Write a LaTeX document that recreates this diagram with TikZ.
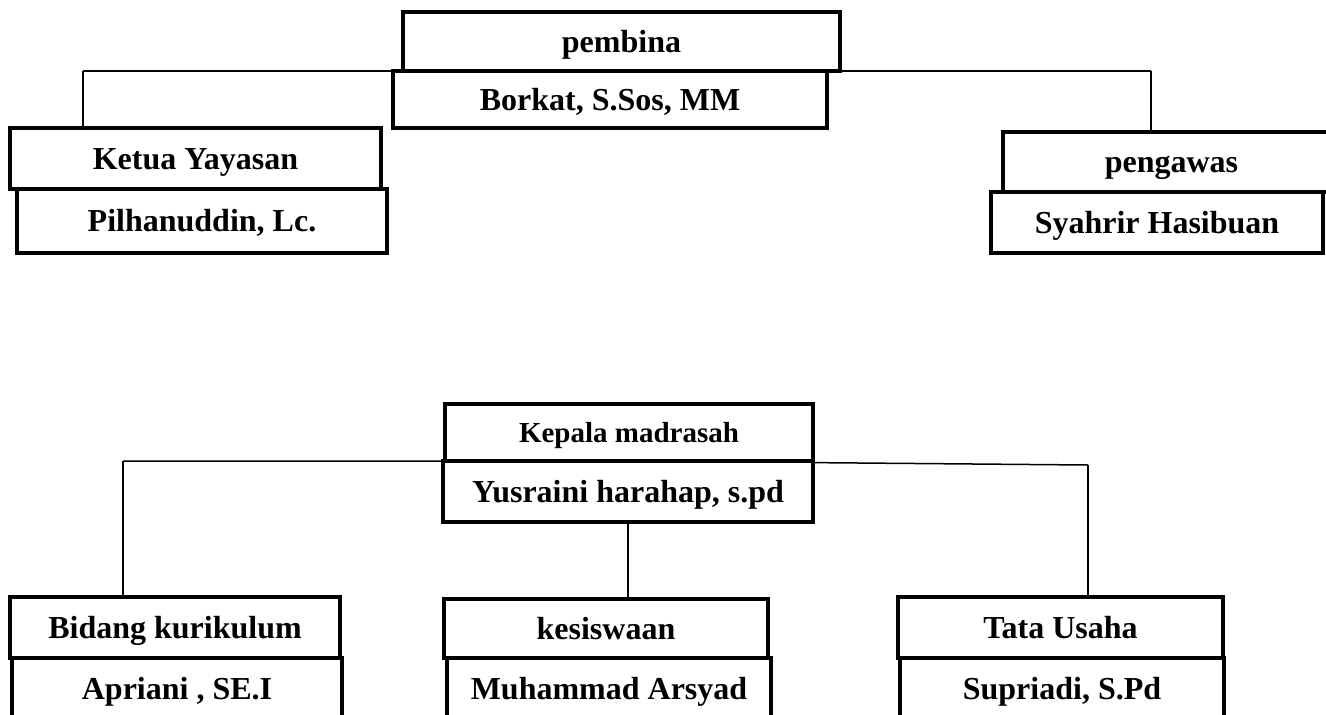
\documentclass[tikz,border=0pt]{standalone}
\usepackage{fontspec}
\setmainfont{Liberation Serif}
\begin{document}
\begin{tikzpicture}[x=1pt,y=-1pt,
  orgbox/.style={draw, line width=3.5pt, rectangle, inner sep=0pt, fill=white,
    font=\fontsize{32}{38}\selectfont\bfseries, text height=21pt, text depth=0pt},
  link/.style={line width=1.5pt}]
\useasboundingbox (0,0) rectangle (1326,715);
\clip (0,0) rectangle (1326,715);
\fill[white] (0,0) rectangle (1326,715);
% top
\coordinate (lk) at (83,71);
\coordinate (rk) at (1151,71);
\coordinate (bl) at (123,461);
\coordinate (br) at (1088,465);
\draw[link] (lk) -- (rk);
\draw[link] (bl) -- (628,461) -- (br);
\node[orgbox, minimum width=437pt, minimum height=59pt] (pembina) at (621.5,41.5) {pembina};
\node[orgbox, minimum width=434pt, minimum height=57pt] (borkat) at (610,99.5) {Borkat, S.Sos, MM};
\node[orgbox, minimum width=371pt, minimum height=61pt] (ketua) at (195.5,158.5) {Ketua Yayasan};
\node[orgbox, minimum width=370pt, minimum height=64pt] (pilh) at (202,221) {Pilhanuddin, Lc.};
\node[orgbox, minimum width=337pt, minimum height=60pt] (pengawas) at (1171.5,162) {pengawas};
\node[orgbox, minimum width=332pt, minimum height=61pt] (syahrir) at (1157,222.5) {Syahrir Hasibuan};
\draw[link] (lk) -- (lk |- ketua.north);
\draw[link] (rk) -- (rk |- pengawas.north);
% bottom
\node[orgbox, minimum width=368pt, minimum height=57pt, font=\fontsize{29}{35}\selectfont\bfseries, text height=19pt] (kepala) at (629,432.5) {Kepala madrasah};
\node[orgbox, minimum width=370pt, minimum height=61pt] (yus) at (628,491.5) {Yusraini harahap, s.pd};
\node[orgbox, minimum width=330pt, minimum height=61pt] (bidang) at (175,627.5) {Bidang kurikulum};
\node[orgbox, minimum width=330pt, minimum height=62pt] (apriani) at (177,689) {Apriani , SE.I};
\node[orgbox, minimum width=324pt, minimum height=59pt] (kes) at (606,628.5) {kesiswaan};
\node[orgbox, minimum width=324pt, minimum height=62pt] (muh) at (609,689) {Muhammad Arsyad};
\node[orgbox, minimum width=325pt, minimum height=61pt] (tata) at (1060.5,627.5) {Tata Usaha};
\node[orgbox, minimum width=324pt, minimum height=62pt] (sup) at (1062,689) {Supriadi, S.Pd};
\draw[link] (bl) -- (bl |- bidang.north);
\draw[link] (br) -- (br |- tata.north);
\draw[link] (yus.south) -- (yus.south |- kes.north);
\end{tikzpicture}
\end{document}
